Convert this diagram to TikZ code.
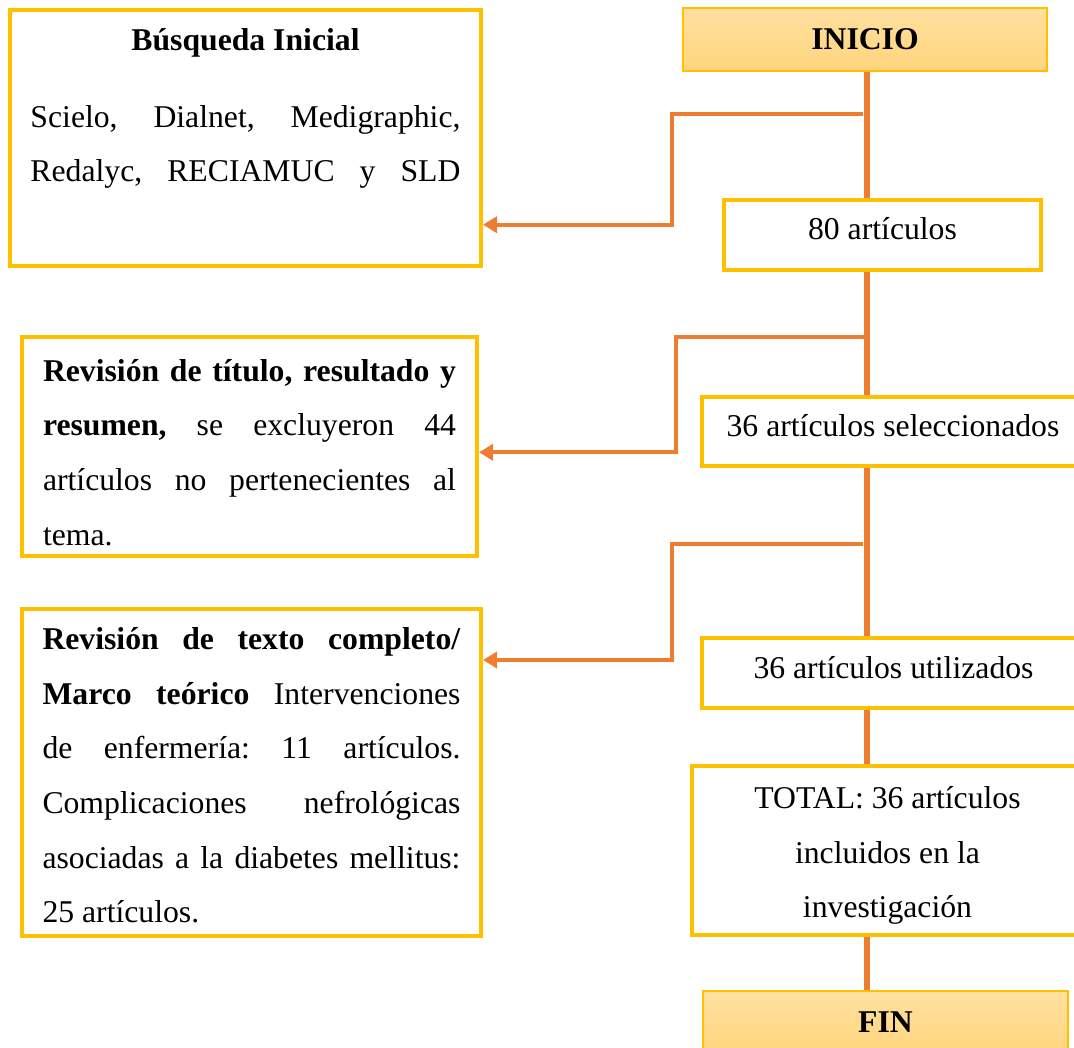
\documentclass[tikz,border=0pt]{standalone}
\usepackage{fontspec}
\setmainfont{Liberation Serif}
\usetikzlibrary{arrows.meta, backgrounds}
\definecolor{boxgold}{RGB}{255,192,0}
\definecolor{linkorange}{RGB}{237,125,49}
\definecolor{termtop}{RGB}{255,224,160}
\definecolor{termbottom}{RGB}{255,213,125}
\newcommand{\jline}[1]{\makebox[\hsize][s]{\frenchspacing\spaceskip=0pt\xspaceskip=0pt #1}}

\begin{document}
\begin{tikzpicture}[x=1pt, y=-1pt,
    font=\fontsize{31.7}{54.6}\selectfont,
    box/.style={draw=boxgold, line width=4pt, fill=white, inner sep=0pt},
    countbox/.style={box, text height=22pt, text depth=12pt},
    termbox/.style={draw=boxgold, line width=1.5pt, top color=termtop, bottom color=termbottom,
        minimum width=364pt, minimum height=63pt, font=\fontsize{31.7}{38}\selectfont\bfseries},
    spine/.style={draw=linkorange, line width=5.3pt},
    link/.style={draw=linkorange, line width=4pt, -{Triangle[length=14pt,width=16pt]}}]
\useasboundingbox (0,0) rectangle (1074,1048);

% Left column
\node[box, minimum width=471pt, minimum height=256pt, text width=430pt, align=justify] (busq) at (245.5,138)
    {\makebox[\hsize]{\textbf{Búsqueda Inicial}}\\[22pt]
     \jline{Scielo, Dialnet, Medigraphic,}\\
     \jline{Redalyc, RECIAMUC y SLD}\\[11pt]\mbox{}};
\node[box, minimum width=455pt, minimum height=219pt, text width=413pt, align=justify] (rev1) at (249.5,446.5)
    {\rule{0pt}{34pt}\jline{\textbf{Revisión de título, resultado y}}\\
     \jline{\textbf{resumen,} se excluyeron 44}\\
     \jline{artículos no pertenecientes al}\\
     tema.};
\node[box, minimum width=459pt, minimum height=327pt, text width=418pt, align=justify] (rev2) at (251.5,772.5)
    {\rule{0pt}{28pt}\jline{\textbf{Revisión de texto completo/}}\\
     \jline{\textbf{Marco teórico} Intervenciones}\\
     \jline{de enfermería: 11 artículos.}\\
     \jline{Complicaciones nefrológicas}\\
     \jline{asociadas a la diabetes mellitus:}\\
     25 artículos.};

% Right column
\node[termbox] (ini) at (865,39.5) {INICIO};
\node[countbox, minimum width=317pt, minimum height=70pt] (a80) at (882.5,235) {80 artículos};
\node[countbox, minimum width=382pt, minimum height=69pt] (a36s) at (893,431.5) {36 artículos seleccionados};
\node[countbox, minimum width=383pt, minimum height=70pt] (a36u) at (893.5,673) {36 artículos utilizados};
\node[box, minimum width=391pt, minimum height=169pt, align=center] (total) at (887.5,850.5)
    {\rule{0pt}{32pt}TOTAL: 36 artículos\\incluidos en la\\investigación};
\node[termbox, minimum width=365pt] (fin) at (885.5,1022.5) {FIN};

% Branch points
\coordinate (mainx) at (867,0);
\coordinate (br1) at (862.7,114.5);
\coordinate (elb1) at (672,224.7);
\coordinate (br2) at (867,337);
\coordinate (elb2) at (676,452.3);
\coordinate (br3) at (862.7,544.3);
\coordinate (elb3) at (672,660);

\begin{scope}[on background layer]
% Main line
\draw[spine] (ini.south -| mainx) -- (a80.north -| mainx);
\draw[spine] (a80.south -| mainx) -- (a36s.north -| mainx);
\draw[spine] (a36s.south -| mainx) -- (a36u.north -| mainx);
\draw[spine] (a36u.south -| mainx) -- (total.north -| mainx);
\draw[spine] (total.south -| mainx) -- (fin.north -| mainx);
% Side arrows
\draw[link] (br1) -| (elb1) -- (elb1 -| busq.east);
\draw[link] (br2) -| (elb2) -- (elb2 -| rev1.east);
\draw[link] (br3) -| (elb3) -- (elb3 -| rev2.east);
\end{scope}
\end{tikzpicture}
\end{document}
